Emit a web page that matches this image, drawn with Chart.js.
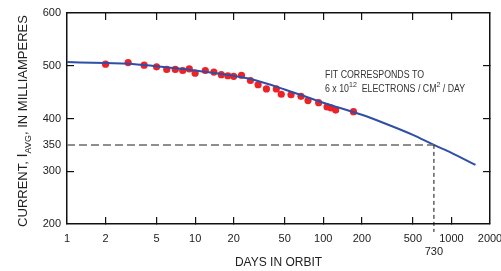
<!DOCTYPE html>
<html>
<head>
<meta charset="utf-8">
<script src="https://cdn.jsdelivr.net/npm/chart.js@4/dist/chart.umd.min.js"></script>
<style>
  html, body { margin: 0; padding: 0; background: #fff; }
  #wrap { width: 501px; height: 271px; }
</style>
</head>
<body>
<div id="wrap"><canvas id="chart" width="501" height="271"></canvas></div>
<script>
// measured points (days in orbit, average current mA)
const obsDays = [2, 3, 4, 5, 6, 7, 8, 9, 10, 12, 14, 16, 18, 20, 23, 27, 31, 36, 43, 47, 56, 67, 76, 92, 107, 115, 125, 172];
const obsCurrent = [503, 506, 501, 498, 493, 493, 491, 494, 486, 491, 488, 483, 481, 480, 482, 472, 464, 456, 456, 446, 445, 442, 434, 430, 422, 420, 416, 413];

// fitted curve
const fitDays = [1, 2, 3, 5, 10, 20, 30, 50, 100, 200, 300, 500, 730, 1000, 1540];
const fitCurrent = [507, 505, 504, 499, 491, 481, 472, 455, 430, 407, 391, 369, 350, 335, 312];

const xTicks = [1, 2, 5, 10, 20, 50, 100, 200, 500, 730, 1000, 2000];
const xInnerTicks = [2, 5, 10, 20, 50, 100, 200, 500, 1000];
const yTicks = [200, 300, 350, 400, 500, 600];
const yInnerTicks = [300, 400, 500];

// 350 mA reached at 730 days; the marker drops a little below the axis
const refDay = 730;
const refCurrent = 350;
const refDropTo = 185;

const textColor = '#222';
const axisColor = '#111';
const font = 'Liberation Sans, Arial, sans-serif';

const tickColor = list => c => (c.tick && list.includes(c.tick.value) ? axisColor : 'rgba(0,0,0,0)');

const textPlugin = {
  id: 'texts',
  afterDraw(chart) {
    const ctx = chart.ctx;

    // annotation
    ctx.save();
    ctx.fillStyle = '#333';
    ctx.textBaseline = 'alphabetic';
    ctx.textAlign = 'left';
    ctx.translate(325, 0);
    ctx.scale(0.88, 1);
    ctx.font = '10px ' + font;
    ctx.fillText('FIT CORRESPONDS TO', 0, 78);
    let cx = 0;
    const put = (s, size, dy) => {
      ctx.font = size + 'px ' + font;
      ctx.fillText(s, cx, 92 + dy);
      cx += ctx.measureText(s).width;
    };
    put('6 x 10', 10, 0);
    put('12', 8, -5);
    put('  ELECTRONS / CM', 10, 0);
    put('2', 8, -5);
    put(' / DAY', 10, 0);
    ctx.restore();

    // y axis title with subscript
    ctx.save();
    ctx.translate(27, 121);
    ctx.rotate(-Math.PI / 2);
    ctx.fillStyle = textColor;
    ctx.textAlign = 'left';
    ctx.textBaseline = 'alphabetic';
    const parts = [
      ['CURRENT, ', 13, 0],
      ['I', 15, 0],
      ['AVG', 9, 4],
      [', IN MILLIAMPERES', 13, 0]
    ];
    let total = 0;
    parts.forEach(p => { ctx.font = p[1] + 'px ' + font; total += ctx.measureText(p[0]).width; });
    let ox = -total / 2;
    parts.forEach(p => {
      ctx.font = p[1] + 'px ' + font;
      ctx.fillText(p[0], ox, p[2]);
      ox += ctx.measureText(p[0]).width;
    });
    ctx.restore();
  }
};

const frameAxis = (axis, extra) => Object.assign({
  grid: { display: true, drawOnChartArea: false, drawTicks: true, tickLength: -7, lineWidth: 1.2, color: tickColor(axis === 'x' ? xInnerTicks : yInnerTicks) },
  border: { display: true, color: axisColor, width: 1.5 }
}, extra);

new Chart(document.getElementById('chart'), {
  type: 'line',
  data: {
    datasets: [
      {
        label: 'Ref horizontal',
        data: [{ x: 1, y: refCurrent }, { x: refDay, y: refCurrent }],
        borderColor: '#6a6a6a',
        borderWidth: 1.5,
        borderDash: [8, 4],
        pointRadius: 0
      },
      {
        label: 'Ref vertical',
        data: [{ x: refDay, y: refCurrent }, { x: refDay, y: refDropTo }],
        borderColor: '#111',
        borderWidth: 1,
        borderDash: [4, 3],
        pointRadius: 0,
        clip: false
      },
      {
        label: 'Fit',
        data: fitDays.map((d, i) => ({ x: d, y: fitCurrent[i] })),
        borderColor: '#2f4fa6',
        borderWidth: 2,
        pointRadius: 0,
        cubicInterpolationMode: 'monotone',
        fill: false
      },
      {
        label: 'Measured',
        data: obsDays.map((d, i) => ({ x: d, y: obsCurrent[i] })),
        showLine: false,
        pointRadius: 3.6,
        pointBackgroundColor: '#ec2227',
        pointBorderWidth: 0,
        borderColor: '#ec2227'
      }
    ]
  },
  options: {
    responsive: false,
    animation: false,
    layout: { padding: { top: 13, right: 11, left: 0, bottom: 0 } },
    plugins: { legend: { display: false }, tooltip: { enabled: false } },
    scales: {
      x: frameAxis('x', {
        type: 'logarithmic',
        position: 'bottom',
        min: 1,
        max: 2000,
        afterBuildTicks: s => { s.ticks = xTicks.map(v => ({ value: v })); },
        afterFit: s => { s.height = 47; s.paddingLeft = 0; s.paddingRight = 0; },
        ticks: {
          autoSkip: false,
          maxRotation: 0,
          padding: 15,
          color: textColor,
          font: { family: font, size: 11 },
          callback: v => (v === refDay ? ['', String(v)] : String(v))
        },
        title: {
          display: true,
          text: 'DAYS IN ORBIT',
          color: textColor,
          font: { family: font, size: 12 },
          padding: { top: 0, bottom: 1 }
        }
      }),
      x2: frameAxis('x', {
        type: 'logarithmic',
        position: 'top',
        min: 1,
        max: 2000,
        afterBuildTicks: s => { s.ticks = xTicks.map(v => ({ value: v })); },
        afterFit: s => { s.height = 0; s.paddingLeft = 0; s.paddingRight = 0; },
        ticks: { display: false }
      }),
      y: frameAxis('y', {
        type: 'linear',
        position: 'left',
        min: 200,
        max: 600,
        afterBuildTicks: s => { s.ticks = yTicks.map(v => ({ value: v })); },
        afterFit: s => { s.width = 67; s.paddingTop = 0; s.paddingBottom = 0; },
        ticks: {
          padding: 13,
          color: textColor,
          font: { family: font, size: 11 }
        }
      }),
      y2: frameAxis('y', {
        type: 'linear',
        position: 'right',
        min: 200,
        max: 600,
        afterBuildTicks: s => { s.ticks = yTicks.map(v => ({ value: v })); },
        afterFit: s => { s.width = 0; s.paddingTop = 0; s.paddingBottom = 0; },
        ticks: { display: false }
      })
    }
  },
  plugins: [textPlugin]
});
</script>
</body>
</html>
